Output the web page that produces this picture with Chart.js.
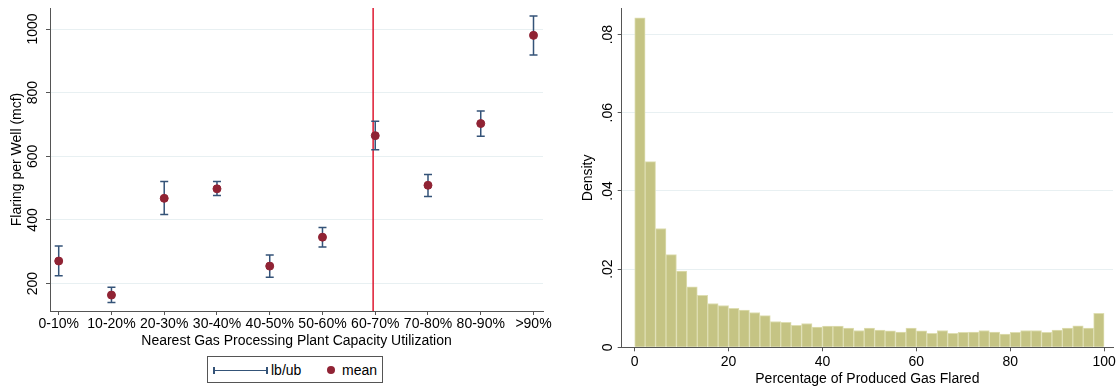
<!DOCTYPE html>
<html>
<head>
<meta charset="utf-8">
<script src="https://cdn.jsdelivr.net/npm/chart.js@4"></script>
<style>
  body { margin: 0; background: #fff; font-family: "Liberation Sans", Arial, sans-serif; }
  #wrap { position: relative; width: 1118px; height: 388px; }
  #left { position: absolute; left: 0; top: 0; }
  #right { position: absolute; left: 560px; top: 0; }
  #legend {
    position: absolute; left: 207px; top: 356px; width: 176px; height: 27px;
    border: 1px solid #555; box-sizing: border-box; font-size: 14px; color: #000;
  }
  #legend .cap { position: absolute; top: 10px; height: 7px; width: 1.5px; background: rgb(52,83,120); }
  #legend .bar { position: absolute; top: 12.5px; height: 1.5px; background: rgb(52,83,120); }
  #legend .dot { position: absolute; width: 8px; height: 8px; border-radius: 50%; background: rgb(144,35,52); }
  #legend span { position: absolute; top: 5px; }
</style>
</head>
<body>
<div id="wrap">
  <canvas id="left" width="560" height="350"></canvas>
  <canvas id="right" width="558" height="388"></canvas>
  <div id="legend">
    <div class="cap" style="left:5px"></div>
    <div class="bar" style="left:5px;width:54px"></div>
    <div class="cap" style="left:58px"></div>
    <span style="left:63px">lb/ub</span>
    <div class="dot" style="left:119px;top:9px"></div>
    <span style="left:134px">mean</span>
  </div>
</div>
<script>
// left panel: flaring by nearest plant utilization
const categories = ['0-10%', '10-20%', '20-30%', '30-40%', '40-50%', '50-60%', '60-70%', '70-80%', '80-90%', '>90%'];
const meanValues = [271, 164, 468, 498, 255, 346, 665, 509, 703, 980];
const lowerBounds = [225, 141, 417, 477, 220, 315, 621, 474, 663, 918];
const upperBounds = [318, 189, 521, 521, 290, 376, 710, 543, 742, 1041];
const cutoffLine = 6.96;

// right panel: histogram of share flared
const binWidth = 100 / 45;
const densityValues = [0.0843, 0.0475, 0.0304, 0.0237, 0.0195, 0.0155, 0.0133, 0.0112, 0.0107, 0.0100,
                       0.0095, 0.0089, 0.0081, 0.0066, 0.0064, 0.0056, 0.0061, 0.0052, 0.0054, 0.0054,
                       0.0049, 0.0043, 0.0049, 0.0044, 0.0042, 0.0039, 0.0049, 0.0042, 0.0036, 0.0043,
                       0.0036, 0.0038, 0.0039, 0.0043, 0.0039, 0.0034, 0.0038, 0.0043, 0.0043, 0.0038,
                       0.0044, 0.0049, 0.0055, 0.0049, 0.0087];

const FONT = { family: '"Liberation Sans", Arial, sans-serif', size: 14 };
const gridColor = 'rgb(232,240,242)';
const axisColor = '#555';
Chart.defaults.color = '#000';
Chart.defaults.font = FONT;

const errorBars = {
    id: 'errorBars',
    beforeDatasetsDraw(chart) {
        const ctx = chart.ctx;
        const x = chart.scales.x, y = chart.scales.y;
        const area = chart.chartArea;
        ctx.save();
        // red reference line
        ctx.strokeStyle = 'rgb(222,24,48)';
        ctx.lineWidth = 1.5;
        let px = x.getPixelForValue(cutoffLine);
        ctx.beginPath();
        ctx.moveTo(px, area.top);
        ctx.lineTo(px, area.bottom);
        ctx.stroke();
        // lb/ub caps
        ctx.strokeStyle = 'rgb(52,83,120)';
        ctx.lineWidth = 1.5;
        for (let i = 0; i < categories.length; i++) {
            let cx = x.getPixelForValue(i + 1);
            let lo = y.getPixelForValue(lowerBounds[i]);
            let hi = y.getPixelForValue(upperBounds[i]);
            ctx.beginPath();
            ctx.moveTo(cx, lo); ctx.lineTo(cx, hi);
            ctx.moveTo(cx - 4, lo); ctx.lineTo(cx + 4, lo);
            ctx.moveTo(cx - 4, hi); ctx.lineTo(cx + 4, hi);
            ctx.stroke();
        }
        ctx.restore();
    }
};

new Chart(document.getElementById('left'), {
    type: 'scatter',
    data: {
        datasets: [{
            label: 'mean',
            data: meanValues.map((v, i) => ({ x: i + 1, y: v })),
            backgroundColor: 'rgb(144,35,52)',
            borderColor: 'rgb(144,35,52)',
            pointRadius: 4,
            pointHoverRadius: 4
        }]
    },
    options: {
        responsive: false,
        animation: false,
        devicePixelRatio: 1,
        layout: { padding: { left: 0, right: 17, top: 8, bottom: 0 } },
        plugins: { legend: { display: false }, tooltip: { enabled: false } },
        scales: {
            x: {
                type: 'linear', min: 0.835, max: 10.18,
                afterFit(s) { s.height = 39; },
                ticks: { stepSize: 1, includeBounds: false, autoSkip: false, maxRotation: 0, padding: 1,
                         callback: v => categories[v - 1] },
                grid: { drawOnChartArea: false, tickLength: 4, tickColor: axisColor },
                border: { color: axisColor, width: 1 },
                title: { display: true, text: 'Nearest Gas Processing Plant Capacity Utilization', padding: { top: 0, bottom: 0 } }
            },
            y: {
                min: 114, max: 1066,
                afterFit(s) { s.width = 50; },
                ticks: { stepSize: 200, includeBounds: false, minRotation: 90, maxRotation: 90, crossAlign: 'center', padding: -3,
                         callback: v => String(v) },
                grid: { color: gridColor, tickLength: 4, tickColor: axisColor },
                border: { color: axisColor, width: 1 },
                title: { display: true, text: 'Flaring per Well (mcf)', padding: { top: 9, bottom: 0 } }
            }
        }
    },
    plugins: [errorBars]
});

new Chart(document.getElementById('right'), {
    type: 'bar',
    data: {
        datasets: [{
            label: 'Density',
            data: densityValues.map((v, i) => ({ x: (i + 0.5) * binWidth, y: v })),
            backgroundColor: 'rgb(197,196,132)',
            borderColor: 'rgb(222,222,178)',
            borderWidth: 1,
            barPercentage: 1,
            categoryPercentage: 1
        }]
    },
    options: {
        responsive: false,
        animation: false,
        devicePixelRatio: 1,
        layout: { padding: { left: 0, right: 5, top: 8, bottom: 0 } },
        plugins: { legend: { display: false }, tooltip: { enabled: false } },
        scales: {
            x: {
                type: 'linear', min: -2.77, max: 101.9, offset: false,
                afterFit(s) { s.height = 40.7; },
                ticks: { stepSize: 20, includeBounds: false, maxRotation: 0, padding: 2 },
                grid: { drawOnChartArea: false, offset: false, tickLength: 4, tickColor: axisColor },
                border: { color: axisColor, width: 1 },
                title: { display: true, text: 'Percentage of Produced Gas Flared', padding: { top: 0, bottom: 0 } }
            },
            y: {
                min: 0, max: 0.0867,
                afterFit(s) { s.width = 61.7; },
                ticks: { stepSize: 0.02, includeBounds: false, minRotation: 90, maxRotation: 90, crossAlign: 'center', padding: 0,
                         callback: v => v === 0 ? '0' : v.toFixed(2).replace(/^0/, '') },
                grid: { color: gridColor, tickLength: 4, tickColor: axisColor },
                border: { color: axisColor, width: 1 },
                title: { display: true, text: 'Density', padding: { top: 20, bottom: 0 } }
            }
        }
    }
});
</script>
</body>
</html>
